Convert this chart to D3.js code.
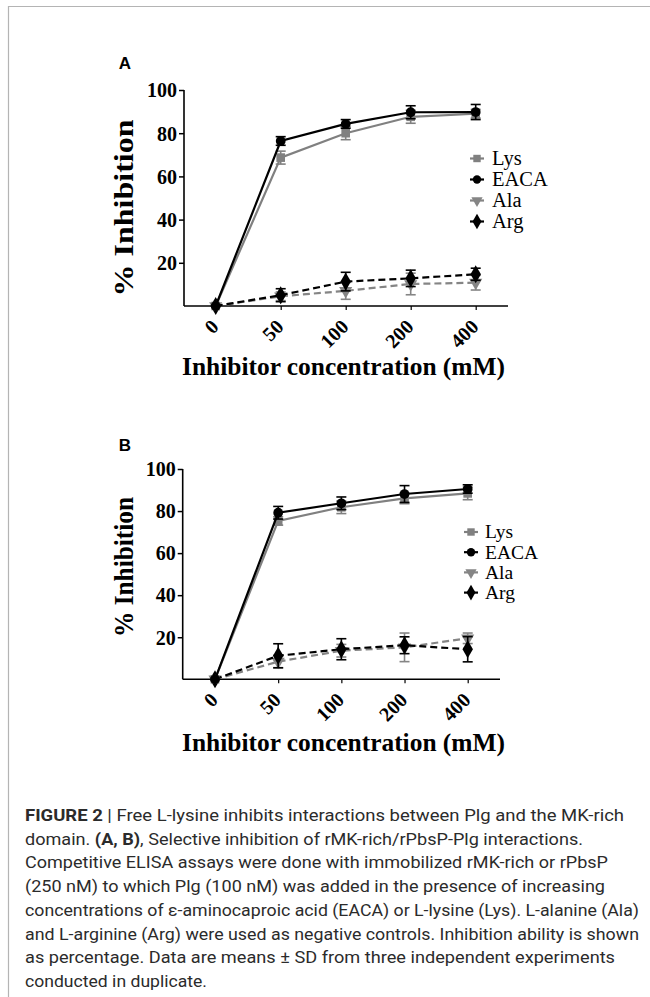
<!DOCTYPE html>
<html>
<head>
<meta charset="utf-8">
<script src="https://cdn.jsdelivr.net/npm/d3@7"></script>
<style>
html,body{margin:0;padding:0;background:#fff;}
svg{display:block;}
</style>
</head>
<body>
<svg id="chart" width="650" height="997"></svg>
<script>
// ---------- DATA ----------
const concentrations = ["0", "50", "100", "200", "400"];
const seriesNames = ["Lys", "EACA", "Ala", "Arg"];
const yTicks = [20, 40, 60, 80, 100];

// Panel A
const lysA  = [0, 68.7, 80.0, 87.6, 89.0];
const lysAErr  = [0, 3, 3, 3, 2];
const eacaA = [0, 76.4, 84.3, 89.7, 89.8];
const eacaAErr = [0, 2, 2, 3, 3.5];
const alaA  = [0, 4.5, 7.0, 10.2, 10.8];
const alaAErr  = [0, 2, 3.9, 5, 3.4];
const argA  = [0, 5.0, 11.3, 12.8, 14.7];
const argAErr  = [0, 3, 4.3, 3.8, 2.8];

// Panel B
const lysB  = [0, 75.3, 81.8, 86.0, 88.4];
const lysBErr  = [0, 2, 3, 2.5, 3];
const eacaB = [0, 79.2, 83.7, 88.1, 90.5];
const eacaBErr = [0, 3, 3, 4, 2];
const alaB  = [0, 8.4, 13.6, 15.2, 19.5];
const alaBErr  = [0, 3, 3, 6.8, 2.5];
const argB  = [0, 11.2, 14.3, 16.2, 14.3];
const argBErr  = [0, 5.7, 5, 4, 6];

const xTitle = "Inhibitor concentration (mM)";
const yTitle = "% Inhibition";

const captionLines = [
  [["FIGURE 2", true], [" | Free L-lysine inhibits interactions between Plg and the MK-rich", false]],
  [["domain. ", false], ["(A, B)", true], [", Selective inhibition of rMK-rich/rPbsP-Plg interactions.", false]],
  [["Competitive ELISA assays were done with immobilized rMK-rich or rPbsP", false]],
  [["(250 nM) to which Plg (100 nM) was added in the presence of increasing", false]],
  [["concentrations of ε-aminocaproic acid (EACA) or L-lysine (Lys). L-alanine (Ala)", false]],
  [["and L-arginine (Arg) were used as negative controls. Inhibition ability is shown", false]],
  [["as percentage. Data are means ± SD from three independent experiments", false]],
  [["conducted in duplicate.", false]]
];

// ---------- STYLES ----------
const styles = {
  Lys:  {color: "#808080", dash: null,  symbol: d3.symbolSquare,   rot: 0},
  EACA: {color: "#000000", dash: null,  symbol: d3.symbolCircle,   rot: 0},
  Ala:  {color: "#858585", dash: "7,4", symbol: d3.symbolTriangle, rot: 180},
  Arg:  {color: "#000000", dash: "7,4", symbol: d3.symbolDiamond,  rot: 0}
};

const svg = d3.select("#chart");

// frame
svg.append("path")
  .attr("d", "M8.5,997 L8.5,6.5 L650,6.5")
  .attr("fill", "none").attr("stroke", "#b4b4b4").attr("stroke-width", 1.2);

function drawPanel(cfg) {
  const g = svg.append("g");
  const x = d3.scalePoint().domain(concentrations).range([cfg.x0, cfg.x1]);
  const y = d3.scaleLinear().domain([0, 100]).range([cfg.yBottom, cfg.yTop]);
  const serif = "'Liberation Serif','Times New Roman',serif";

  // panel letter
  g.append("text").attr("x", cfg.letterX).attr("y", cfg.letterY)
    .attr("font-family", "'Liberation Sans',Arial,sans-serif").attr("font-weight", "bold")
    .attr("font-size", 17).attr("text-anchor", "middle").text(cfg.letter);

  // y axis
  const yAxis = d3.axisLeft(y).tickValues(yTicks).tickSize(5).tickPadding(2).tickSizeOuter(0);
  const ya = g.append("g").attr("transform", `translate(${cfg.axisX},0)`).call(yAxis);
  ya.select(".domain").attr("stroke-width", 1.6).attr("d", `M0,${cfg.yBottom}V${cfg.yTop}`);
  ya.selectAll(".tick line").attr("stroke-width", 1.5);
  ya.selectAll(".tick text").attr("font-family", serif).attr("font-weight", "bold")
    .attr("font-size", 20).attr("fill", "#000").attr("dy", "0.34em");

  // x axis
  const xAxis = d3.axisBottom(x).tickSize(4).tickSizeOuter(0).tickFormat("");
  const xa = g.append("g").attr("transform", `translate(0,${cfg.yBottom})`).call(xAxis);
  xa.select(".domain").attr("stroke-width", 1.6).attr("d", `M${cfg.axisX},0H${cfg.axisEnd}`);
  xa.selectAll(".tick line").attr("stroke-width", 1.2);
  concentrations.forEach(c => {
    g.append("text")
      .attr("transform", `translate(${x(c) + 4},${cfg.yBottom + 22}) rotate(-45)`)
      .attr("text-anchor", "end")
      .attr("font-family", serif).attr("font-weight", "bold").attr("font-size", 20)
      .text(c);
  });

  // titles
  g.append("text").attr("x", cfg.xTitleX).attr("y", cfg.xTitleY)
    .attr("font-family", serif).attr("font-weight", "bold").attr("font-size", 26)
    .attr("textLength", cfg.xTitleLen).attr("lengthAdjust", "spacingAndGlyphs")
    .text(xTitle);
  g.append("text")
    .attr("transform", `translate(${cfg.yTitleX},${cfg.yTitleY}) rotate(-90)`)
    .attr("text-anchor", "middle")
    .attr("font-family", serif).attr("font-weight", "bold").attr("font-size", 27)
    .attr("textLength", cfg.yTitleLen).attr("lengthAdjust", "spacingAndGlyphs")
    .text(yTitle);

  // series
  const order = ["Ala", "Arg", "Lys", "EACA"];
  order.forEach(name => {
    const st = styles[name];
    const vals = cfg.data[name][0], errs = cfg.data[name][1];
    const pts = concentrations.map((c, i) => ({c, v: vals[i], e: errs[i]}));
    const eb = g.append("g").attr("stroke", st.color).attr("stroke-width", 1.6).attr("fill", "none");
    pts.forEach(p => {
      if (p.e <= 0) return;
      const cx = x(p.c), yt = y(p.v + p.e), yb = y(p.v - p.e);
      eb.append("line").attr("x1", cx).attr("x2", cx).attr("y1", yt).attr("y2", yb);
      eb.append("line").attr("x1", cx - 5).attr("x2", cx + 5).attr("y1", yt).attr("y2", yt);
      eb.append("line").attr("x1", cx - 5).attr("x2", cx + 5).attr("y1", yb).attr("y2", yb);
    });
    g.append("path").datum(pts)
      .attr("d", d3.line().x(p => x(p.c)).y(p => y(p.v)))
      .attr("fill", "none").attr("stroke", st.color).attr("stroke-width", 2.2)
      .attr("stroke-dasharray", st.dash);
    g.selectAll(null).data(pts).enter().append("path")
      .attr("d", d3.symbol().type(st.symbol).size(name === "Arg" ? 95 : 75))
      .attr("transform", p => `translate(${x(p.c)},${y(p.v)}) rotate(${st.rot})`)
      .attr("fill", st.color);
  });

  // legend
  seriesNames.forEach((name, i) => {
    const st = styles[name];
    const ly = cfg.legY + i * cfg.legStep;
    g.append("line").attr("x1", cfg.legX - 7).attr("x2", cfg.legX + 7)
      .attr("y1", ly).attr("y2", ly)
      .attr("stroke", st.color).attr("stroke-width", 2.2);
    g.append("path").attr("d", d3.symbol().type(st.symbol).size(name === "Arg" ? 70 : 55))
      .attr("transform", `translate(${cfg.legX},${ly}) rotate(${st.rot})`)
      .attr("fill", st.color);
    g.append("text").attr("x", cfg.legTextX).attr("y", ly).attr("dy", "0.33em")
      .attr("font-family", serif).attr("font-size", cfg.legFont).text(name);
  });
}

drawPanel({
  letter: "A", letterX: 125, letterY: 69,
  x0: 215.7, x1: 475.7, yBottom: 306, yTop: 90, axisX: 184, axisEnd: 508,
  xTitleX: 182, xTitleY: 375, xTitleLen: 323,
  yTitleX: 133, yTitleY: 208, yTitleLen: 177,
  legX: 477, legTextX: 492, legY: 158.5, legStep: 21, legFont: 20.5,
  data: {Lys: [lysA, lysAErr], EACA: [eacaA, eacaAErr], Ala: [alaA, alaAErr], Arg: [argA, argAErr]}
});

drawPanel({
  letter: "B", letterX: 125, letterY: 451,
  x0: 215, x1: 467.7, yBottom: 679.3, yTop: 469, axisX: 182.7, axisEnd: 500,
  xTitleX: 182, xTitleY: 751, xTitleLen: 323,
  yTitleX: 133, yTitleY: 567, yTitleLen: 140,
  legX: 471, legTextX: 485, legY: 532, legStep: 20.2, legFont: 19.5,
  data: {Lys: [lysB, lysBErr], EACA: [eacaB, eacaBErr], Ala: [alaB, alaBErr], Arg: [argB, argBErr]}
});

// caption
const capWidths = [599, 558, 583, 580, 614, 614, 590, 182];
captionLines.forEach((parts, i) => {
  const t = svg.append("text").attr("x", 25).attr("y", 821 + i * 23.7)
    .attr("font-family", "Roboto,'Liberation Sans',Arial,sans-serif")
    .attr("font-size", 16.5).attr("fill", "#2b2b2b")
    .attr("textLength", capWidths[i]).attr("lengthAdjust", "spacingAndGlyphs");
  parts.forEach(([s, b]) => {
    t.append("tspan").attr("font-weight", b ? 700 : 400).text(s);
  });
});
</script>
</body>
</html>
